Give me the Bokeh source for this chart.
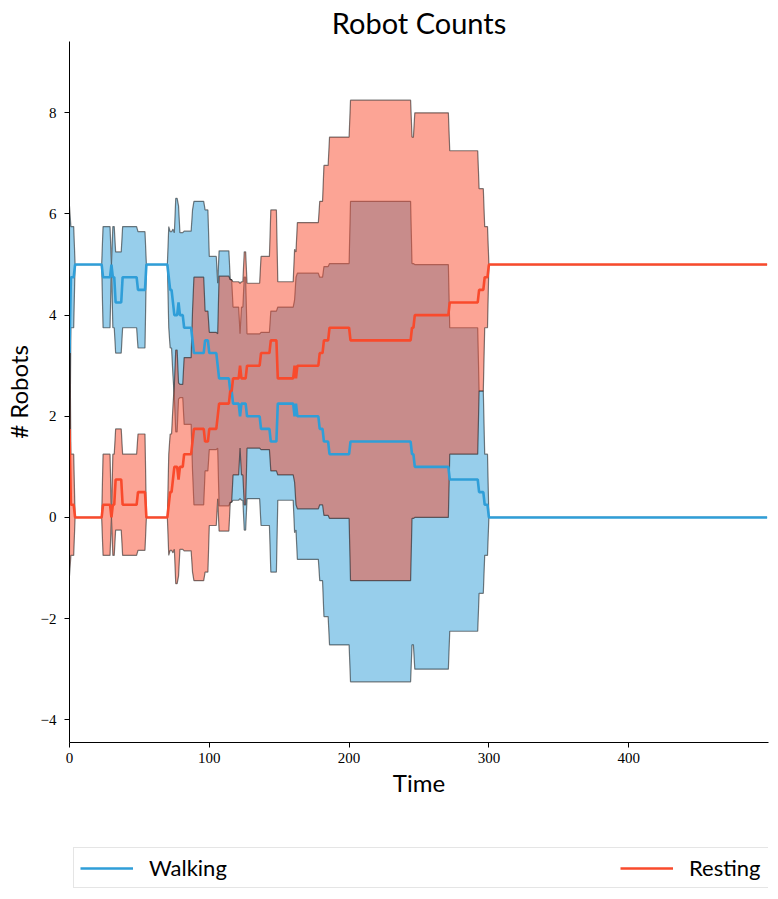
from bokeh.plotting import figure
from bokeh.layouts import column
from bokeh.models import Range1d, Legend, LegendItem, FixedTicker
from bokeh.embed import file_html
from bokeh.resources import INLINE

# Piecewise-constant robot counts: each entry holds from seg_time[i] up to the next start.
seg_time = [0, 1, 4, 24, 30, 31, 33, 38, 49, 55, 71, 72, 74, 75, 76, 78, 79, 82, 88, 89,
            97, 100, 106, 107, 115, 117, 122, 123, 125, 127, 137, 144, 149, 161, 162, 163,
            179, 182, 186, 201, 245, 247, 272, 293, 297, 300]
walking_mean = [3.25, 4.75, 5.0, 4.75, 5.0, 4.75, 4.25, 4.75, 4.5, 5.0, 4.75, 4.5, 4.25, 4.0,
                4.0, 4.25, 4.0, 3.75, 3.5, 3.25, 3.5, 3.25, 3.0, 2.75, 2.5, 2.25, 2.0, 2.25,
                2.25, 2.0, 1.75, 1.5, 2.25, 2.0, 2.25, 2.0, 1.75, 1.5, 1.25, 1.5, 1.25, 1.0,
                0.75, 0.5, 0.25, 0.0]
resting_mean = [1.75, 0.25, 0.0, 0.25, 0.0, 0.25, 0.75, 0.25, 0.5, 0.0, 0.25, 0.5, 0.75, 1.0,
                1.0, 0.75, 1.0, 1.25, 1.5, 1.75, 1.5, 1.75, 2.0, 2.25, 2.5, 2.75, 3.0, 2.75,
                2.75, 3.0, 3.25, 3.5, 2.75, 3.0, 2.75, 3.0, 3.25, 3.5, 3.75, 3.5, 3.75, 4.0,
                4.25, 4.5, 4.75, 5.0]
band_halfwidth = [2.9, 1.0, 0.0, 1.0, 0.0, 1.0, 1.0, 1.0, 1.15, 0.0, 1.0, 1.15, 1.45, 1.63,
                  2.31, 1.91, 1.63, 1.91, 2.58, 3.0, 2.58, 1.91, 1.63, 2.52, 2.2, 1.91, 1.63,
                  1.91, 2.5, 1.63, 1.91, 2.58, 1.91, 2.3, 2.5, 2.83, 3.0, 3.46, 3.77, 4.75,
                  3.77, 4.0, 3.0, 2.0, 1.0, 0.0]
t_last = 499

series_names = ["Walking", "Resting"]
x_ticks = [0, 100, 200, 300, 400]
y_ticks = [-4, -2, 0, 2, 4, 6, 8]

WALK_COLOR = "#2f9ed8"
REST_COLOR = "#f94a2c"
SANS = "Lato"
SERIF = "Liberation Serif"


def stepped(values):
    xs, ys = [], []
    for i, v in enumerate(values):
        t0 = seg_time[i]
        t1 = seg_time[i + 1] - 1 if i + 1 < len(seg_time) else t_last
        xs.append(t0)
        ys.append(v)
        if t1 > t0:
            xs.append(t1)
            ys.append(v)
    return xs, ys


p = figure(width=778, height=820, output_backend="svg", toolbar_location=None,
           x_range=Range1d(0, 500), y_range=Range1d(-4.45, 9.41),
           min_border_left=68, min_border_right=10, min_border_top=41,
           min_border_bottom=78)
p.outline_line_color = None
p.xgrid.visible = False
p.ygrid.visible = False
p.background_fill_color = "white"

p.title.text = "Robot Counts"
p.title.align = "center"
p.title.text_font = SANS
p.title.text_font_size = "29px"
p.title.text_font_style = "normal"
p.title.text_color = "black"
p.title.standoff = 4

for ax in (p.xaxis, p.yaxis):
    ax.axis_line_color = "black"
    ax.major_tick_line_color = "black"
    ax.major_tick_out = 5
    ax.major_tick_in = 0
    ax.minor_tick_line_color = None
    ax.major_label_text_font = SERIF
    ax.major_label_text_font_size = "15px"
    ax.major_label_text_color = "black"
    ax.axis_label_text_font = SANS
    ax.axis_label_text_font_size = "24px"
    ax.axis_label_text_font_style = "normal"
    ax.axis_label_text_color = "black"

p.xaxis.ticker = FixedTicker(ticks=x_ticks)
p.yaxis.ticker = FixedTicker(ticks=y_ticks)
p.yaxis.major_label_overrides = {t: str(t).replace("-", "\u2212") for t in y_ticks}
p.xaxis.axis_label = "Time"
p.yaxis.axis_label = "# Robots"
p.xaxis.major_label_standoff = 5
p.yaxis.major_label_standoff = 8
p.xaxis.axis_label_standoff = 2
p.yaxis.axis_label_standoff = 5

# mean +/- spread bands, walking first, resting on top
colors = [WALK_COLOR, REST_COLOR]
for mean, color in zip([walking_mean, resting_mean], colors):
    upper = [m + s for m, s in zip(mean, band_halfwidth)]
    lower = [m - s for m, s in zip(mean, band_halfwidth)]
    ux, uy = stepped(upper)
    lx, ly = stepped(lower)
    p.patch(ux + lx[::-1], uy + ly[::-1], fill_color=color, fill_alpha=0.5,
            line_color="black", line_alpha=0.5, line_width=1.2)

for mean, color in zip([walking_mean, resting_mean], colors):
    mx, my = stepped(mean)
    p.line(mx, my, line_color=color, line_width=2.6)

# legend strip under the chart, its box stretched across the plot width
leg = figure(width=778, height=79, output_backend="svg", toolbar_location=None,
             x_range=Range1d(0, 1), y_range=Range1d(0, 1), min_border=0,
             min_border_left=68, min_border_right=0,
             x_axis_type=None, y_axis_type=None)
leg.outline_line_color = None
leg.xgrid.visible = False
leg.ygrid.visible = False
# key renderers sit outside the visible range; only their legend glyphs show
keys = [leg.line([5, 6], [5, 6], line_color=c, line_width=2.6) for c in colors]

legend = Legend(items=[LegendItem(label=n, renderers=[r]) for n, r in zip(series_names, keys)],
                orientation="horizontal", location=(4, 11))
legend.label_text_font = SANS
legend.label_text_font_size = "22px"
legend.label_text_color = "black"
legend.glyph_width = 53
legend.glyph_height = 22
legend.label_standoff = 16
legend.label_width = 78
legend.label_height = 22
legend.spacing = 393
legend.padding = 6
legend.margin = 0
legend.border_line_color = "#cccccc"
legend.border_line_width = 1
legend.background_fill_color = "white"
legend.background_fill_alpha = 1.0
leg.add_layout(legend, "center")

layout = column(p, leg, spacing=0)
open("out.html", "w").write(file_html(layout, INLINE))
